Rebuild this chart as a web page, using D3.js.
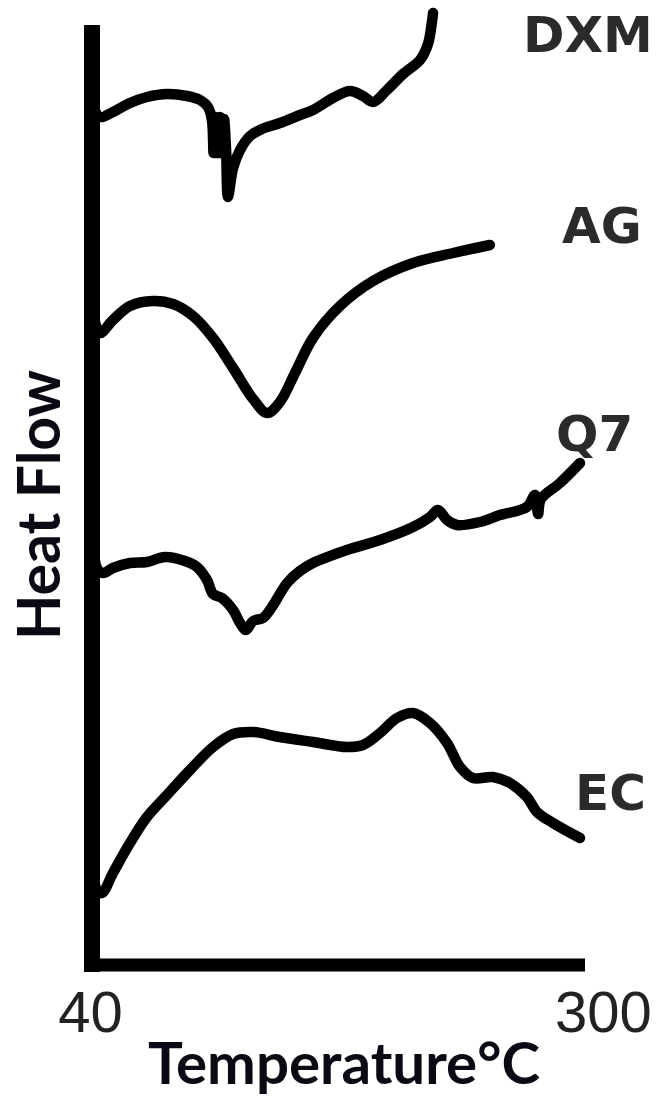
<!DOCTYPE html>
<html>
<head>
<meta charset="utf-8">
<script src="https://cdn.jsdelivr.net/npm/d3@7"></script>
<style>
  html, body { margin: 0; padding: 0; background: #fff; }
  svg { display: block; }
</style>
</head>
<body>
<div id="chart"></div>
<script>
// temperature ticks and curve names
const tickTemps = [40, 300];
const curveNames = ["DXM", "AG", "Q7", "EC"];

// [temperature °C, heat flow (a.u., offset stacked)]
const dxm = [
  [41.1, 857], [44.2, 848], [51.1, 853], [60.1, 862], [69.1, 868], [79.7, 871],
  [90.3, 869], [97.2, 865], [101.4, 858], [103.5, 845], [104.4, 812], [105.6, 848],
  [106.6, 812], [107.7, 848], [108.8, 812], [109.9, 846], [111.0, 815], [112.0, 768],
  [114.7, 797], [118.4, 815], [123.7, 829], [130.0, 836], [139.5, 842], [150.1, 850],
  [157.0, 855], [167.6, 867], [176.6, 874], [183.5, 869], [188.8, 863], [196.2, 875],
  [204.7, 891], [213.7, 905], [217.9, 921], [220.0, 943], [220.6, 952]
];
const ag = [
  [41.1, 647], [44.2, 632], [51.1, 645], [60.1, 659], [72.3, 664], [82.9, 661],
  [93.5, 649], [104.1, 627], [114.7, 597], [125.3, 566], [132.7, 552], [139.5, 563],
  [147.5, 592], [157.0, 627], [171.3, 659], [188.8, 684], [210.0, 702], [231.2, 712],
  [250.7, 720]
];
const q7 = [
  [41.1, 420], [42.6, 397], [45.8, 392], [51.1, 397], [60.1, 402], [69.1, 403],
  [78.7, 408], [89.2, 404], [95.6, 398], [100.9, 385], [104.1, 371], [108.8, 367],
  [114.7, 355], [118.4, 342], [121.5, 335], [125.3, 344], [130.6, 347], [135.3, 358],
  [143.3, 382], [150.1, 394], [157.0, 402], [175.0, 415], [192.5, 425], [210.0, 438],
  [219.0, 448], [223.2, 455], [228.0, 445], [233.3, 440], [245.4, 443], [256.0, 450],
  [270.3, 458], [274.6, 470], [276.2, 451], [277.7, 466], [287.8, 482], [298.4, 502]
];
const ec = [
  [40.5, 95], [42.6, 75], [45.3, 72], [51.1, 92], [60.1, 122], [69.1, 148],
  [79.7, 170], [91.9, 195], [104.1, 218], [114.7, 231], [125.3, 233], [139.5, 228],
  [157.0, 223], [175.0, 218], [183.5, 220], [192.5, 232], [201.5, 247], [210.0, 252],
  [219.0, 242], [228.0, 222], [234.9, 198], [241.7, 187], [252.3, 188], [261.3, 182],
  [270.3, 168], [275.6, 153], [284.1, 142], [298.4, 127]
];

const width = 656, height = 1099;

const svg = d3.select("#chart").append("svg")
  .attr("width", width)
  .attr("height", height);

const x = d3.scaleLinear().domain([40, 300]).range([92, 583]);
const y = d3.scaleLinear().domain([0, 940]).range([965, 25]);

// curves
const line = d3.line()
  .x(d => x(d[0]))
  .y(d => y(d[1]))
  .curve(d3.curveCatmullRom.alpha(0.5));

const series = [
  { name: curveNames[0], data: dxm, lx: 523, ly: 52 },
  { name: curveNames[1], data: ag, lx: 562, ly: 243 },
  { name: curveNames[2], data: q7, lx: 556, ly: 451 },
  { name: curveNames[3], data: ec, lx: 575, ly: 810 }
];

svg.selectAll(".curve")
  .data(series)
  .enter().append("path")
  .attr("class", "curve")
  .attr("d", d => line(d.data))
  .attr("fill", "none")
  .attr("stroke", "#000")
  .attr("stroke-width", 10.5)
  .attr("stroke-linecap", "round")
  .attr("stroke-linejoin", "round");

svg.selectAll(".name")
  .data(series)
  .enter().append("text")
  .attr("class", "name")
  .attr("x", d => d.lx)
  .attr("y", d => d.ly)
  .attr("font-family", "DejaVu Sans")
  .attr("font-weight", "bold")
  .attr("font-size", 50)
  .attr("fill", "#2b2b2b")
  .text(d => d.name);

// y axis line (thick)
svg.append("line")
  .attr("x1", x(40)).attr("x2", x(40))
  .attr("y1", y(940)).attr("y2", y(0) + 7)
  .attr("stroke", "#000")
  .attr("stroke-width", 16);

// x axis
const xAxis = d3.axisBottom(x)
  .tickValues(tickTemps)
  .tickSize(0)
  .tickSizeOuter(0)
  .tickPadding(26);

const gx = svg.append("g")
  .attr("transform", `translate(0,${y(0)})`)
  .call(xAxis);

gx.select(".domain")
  .attr("d", `M${x(40) - 8},0H${x(300) + 2}`)
  .attr("stroke", "#000")
  .attr("stroke-width", 13);

gx.selectAll(".tick text")
  .attr("font-family", "Liberation Sans, Arial, sans-serif")
  .attr("font-size", 58)
  .attr("fill", "#222")
  .attr("dx", d => d === 300 ? 20 : -2);

// axis titles
svg.append("text")
  .attr("x", 344)
  .attr("y", 1084)
  .attr("text-anchor", "middle")
  .attr("font-family", "Lato")
  .attr("font-weight", "bold")
  .attr("font-size", 58)
  .attr("textLength", 392)
  .attr("lengthAdjust", "spacingAndGlyphs")
  .attr("fill", "#0a0a14")
  .text("Temperature°C");

svg.append("text")
  .attr("transform", "translate(60,505) rotate(-90)")
  .attr("text-anchor", "middle")
  .attr("font-family", "Lato")
  .attr("font-weight", "bold")
  .attr("font-size", 60)
  .attr("textLength", 270)
  .attr("lengthAdjust", "spacingAndGlyphs")
  .attr("fill", "#0a0a14")
  .text("Heat Flow");
</script>
</body>
</html>
